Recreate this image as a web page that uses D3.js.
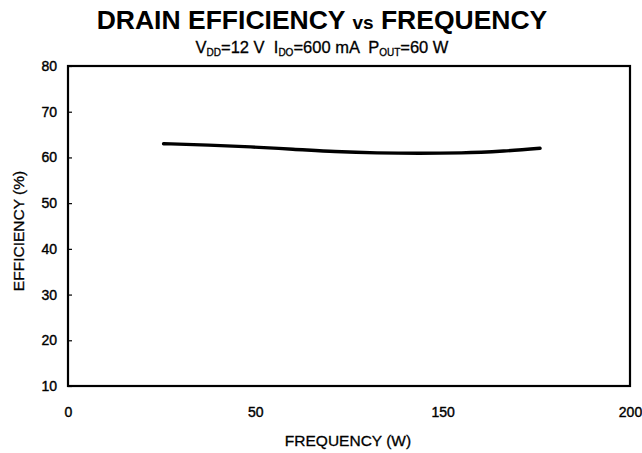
<!DOCTYPE html>
<html>
<head>
<meta charset="utf-8">
<script src="https://cdn.jsdelivr.net/npm/d3@7"></script>
<style>
  html, body { margin: 0; padding: 0; background: #fff; }
  svg { display: block; font-family: "Liberation Sans", Arial, sans-serif; }
  text { white-space: pre; }
</style>
</head>
<body>
<svg id="chart" width="642" height="453"></svg>
<script>
// ---- data ----
const frequency = [34, 50, 65, 80, 95, 110, 125, 140, 155, 168];
const efficiency = [63.0, 62.7, 62.3, 61.8, 61.3, 61.0, 60.9, 61.0, 61.4, 62.0];
const xTickPositions = [0, 66.667, 133.333, 200];
const xTickLabels = ["0", "50", "150", "200"];   // as printed on the original
const yTicks = [10, 20, 30, 40, 50, 60, 70, 80];

const svg = d3.select("#chart");
const L = 68, R = 630, T = 66, B = 386;

const x = d3.scaleLinear().domain([0, 200]).range([L, R]);
const y = d3.scaleLinear().domain([10, 80]).range([B, T]);

// title
const title = svg.append("text")
  .attr("x", 322).attr("y", 29)
  .attr("text-anchor", "middle")
  .attr("font-weight", "bold")
  .attr("font-size", 26.5)
  .attr("fill", "#000");
title.append("tspan").text("DRAIN EFFICIENCY ");
title.append("tspan").attr("font-size", 19).text("vs");
title.append("tspan").text(" FREQUENCY");

// subtitle with subscripts
const sub = svg.append("text")
  .attr("x", 322).attr("y", 53)
  .attr("text-anchor", "middle")
  .attr("font-size", 16.5)
  .attr("fill", "#000")
  .attr("stroke", "#000").attr("stroke-width", 0.3);
const subParts = [["V", "DD"], ["=12 V  I", "DO"], ["=600 mA  P", "OUT"], ["=60 W", null]];
subParts.forEach(([t, s], i) => {
  sub.append("tspan").attr("dy", i === 0 ? 0 : -3).text(t);
  if (s) sub.append("tspan").attr("font-size", 10).attr("dy", 3).text(s);
});

// frame
svg.append("rect")
  .attr("x", L).attr("y", T)
  .attr("width", R - L).attr("height", B - T)
  .attr("fill", "none").attr("stroke", "#000").attr("stroke-width", 2.2);

// y axis: inward ticks, labels on left
const yAxis = d3.axisLeft(y).tickValues(yTicks).tickSize(-4).tickPadding(11)
  .tickFormat(d3.format("d"));
const gy = svg.append("g").attr("transform", `translate(${L},0)`).call(yAxis);
gy.select(".domain").remove();
gy.selectAll(".tick line").attr("stroke", "#000").attr("stroke-width", 1.2);
gy.selectAll(".tick text").attr("font-size", 14).attr("fill", "#000")
  .attr("stroke", "#000").attr("stroke-width", 0.4)
  .attr("font-family", "'Liberation Sans', Arial, sans-serif");

// x axis: labels only
const xAxis = d3.axisBottom(x).tickValues(xTickPositions).tickSize(0).tickPadding(21)
  .tickFormat((d, i) => xTickLabels[i]);
const gx = svg.append("g").attr("transform", `translate(0,${B})`).call(xAxis);
gx.select(".domain").remove();
gx.selectAll(".tick text").attr("font-size", 14).attr("fill", "#000")
  .attr("stroke", "#000").attr("stroke-width", 0.4)
  .attr("font-family", "'Liberation Sans', Arial, sans-serif");

// axis titles
svg.append("text")
  .attr("x", 348).attr("y", 446)
  .attr("text-anchor", "middle").attr("font-size", 15.5).attr("fill", "#000")
  .attr("stroke", "#000").attr("stroke-width", 0.3)
  .text("FREQUENCY (W)");
svg.append("text")
  .attr("transform", `translate(24,${(T + B) / 2 + 5}) rotate(-90)`)
  .attr("text-anchor", "middle").attr("font-size", 15.5).attr("fill", "#000")
  .attr("stroke", "#000").attr("stroke-width", 0.3)
  .text("EFFICIENCY (%)");

// curve
const pts = frequency.map((f, i) => [f, efficiency[i]]);
svg.append("path")
  .datum(pts)
  .attr("fill", "none").attr("stroke", "#000").attr("stroke-width", 3.4)
  .attr("stroke-linecap", "round")
  .attr("d", d3.line().x(d => x(d[0])).y(d => y(d[1])).curve(d3.curveMonotoneX));
</script>
</body>
</html>
